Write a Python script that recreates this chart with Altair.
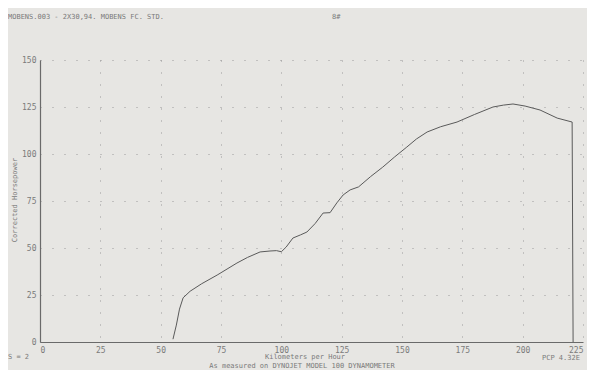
import altair as alt
import pandas as pd

# Dyno curve: speed (km/h) vs corrected horsepower
speed = [55.1, 56.5, 57.8, 59.3, 62.2, 67.0, 73.4, 77.5, 81.6, 86.0, 91.2, 95.3, 98.0, 100.0, 102.0,
         104.8, 108.0, 110.6, 114.0, 117.3, 120.2, 123.0, 125.6, 128.5, 132.0, 137.0, 142.0,
         147.0, 152.0, 156.0, 160.4, 166.0, 172.8, 180.0, 187.7, 192.0, 196.0, 201.0, 207.2,
         214.3, 220.5, 220.9]
hp = [1.5, 9.0, 17.5, 23.5, 27.0, 31.0, 35.6, 38.8, 42.0, 45.0, 47.9, 48.4, 48.6, 48.0, 50.5,
      55.3, 57.0, 58.5, 63.0, 68.6, 68.8, 74.0, 78.2, 80.9, 82.5, 88.0, 93.0,
      98.5, 103.7, 108.0, 111.7, 114.5, 117.0, 121.0, 125.0, 126.0, 126.6, 125.5, 123.4,
      119.1, 117.0, 0.0]

x_ticks = [0, 25, 50, 75, 100, 125, 150, 175, 200, 225]
y_ticks = [0, 25, 50, 75, 100, 125, 150]

header_left = "MOBENS.003 - 2X30,94. MOBENS FC. STD."
header_mid = "8#"
x_title = "Kilometers per Hour"
footer = "As measured on DYNOJET MODEL 100 DYNAMOMETER"
smooth_note = "S = 2"
correction = "PCP 4.32E"
y_title = "Corrected Horsepower"

FONT = "DejaVu Sans Mono"
TXT = "#7a7a7a"

df = pd.DataFrame({"speed": speed, "hp": hp, "order": list(range(len(speed)))})

line = alt.Chart(df).mark_line(color="#5a5a5a", strokeWidth=1).encode(
    x=alt.X("speed:Q", scale=alt.Scale(domain=[0, 225], nice=False),
            axis=alt.Axis(values=x_ticks, title=None, grid=True, gridDash=[1, 11],
                          gridColor="#9a9a9a", gridWidth=1, domainColor="#6a6a6a",
                          domainWidth=1.2, ticks=False, labelPadding=4,
                          labelFont=FONT, labelFontSize=8, labelColor=TXT)),
    y=alt.Y("hp:Q", scale=alt.Scale(domain=[0, 150], nice=False),
            axis=alt.Axis(values=y_ticks, title=None, grid=True, gridDash=[1, 11],
                          gridColor="#9a9a9a", gridWidth=1, domainColor="#6a6a6a",
                          domainWidth=1.2, ticks=False, labelPadding=4,
                          labelFont=FONT, labelFontSize=8, labelColor=TXT)),
    order="order:Q",
)

def label(txt, x, y, align="left", angle=0, size=8):
    return alt.Chart(pd.DataFrame({"t": [txt]})).mark_text(
        font=FONT, fontSize=size, color=TXT, align=align, baseline="middle", angle=angle
    ).encode(text="t:N", x=alt.value(x), y=alt.value(y))

texts = [
    label(header_left, -32, -43, size=7),
    label(header_mid, 292, -43, size=7),
    label(x_title, 265, 297, align="center", size=7),
    label(footer, 262, 306, align="center", size=7),
    label(smooth_note, -32, 297, size=7),
    label(correction, 502, 298, size=7),
    label(y_title, -25, 140, align="center", angle=270, size=7),
]

chart = alt.layer(line, *texts).properties(
    width=543, height=282,
    autosize=alt.AutoSizeParams(type="none"),
    padding={"left": 32, "top": 52, "right": 4, "bottom": 28},
    background="#e7e6e3",
).configure_view(stroke=None)

chart.save("out.html", embed_options={"renderer": "svg", "actions": False})
